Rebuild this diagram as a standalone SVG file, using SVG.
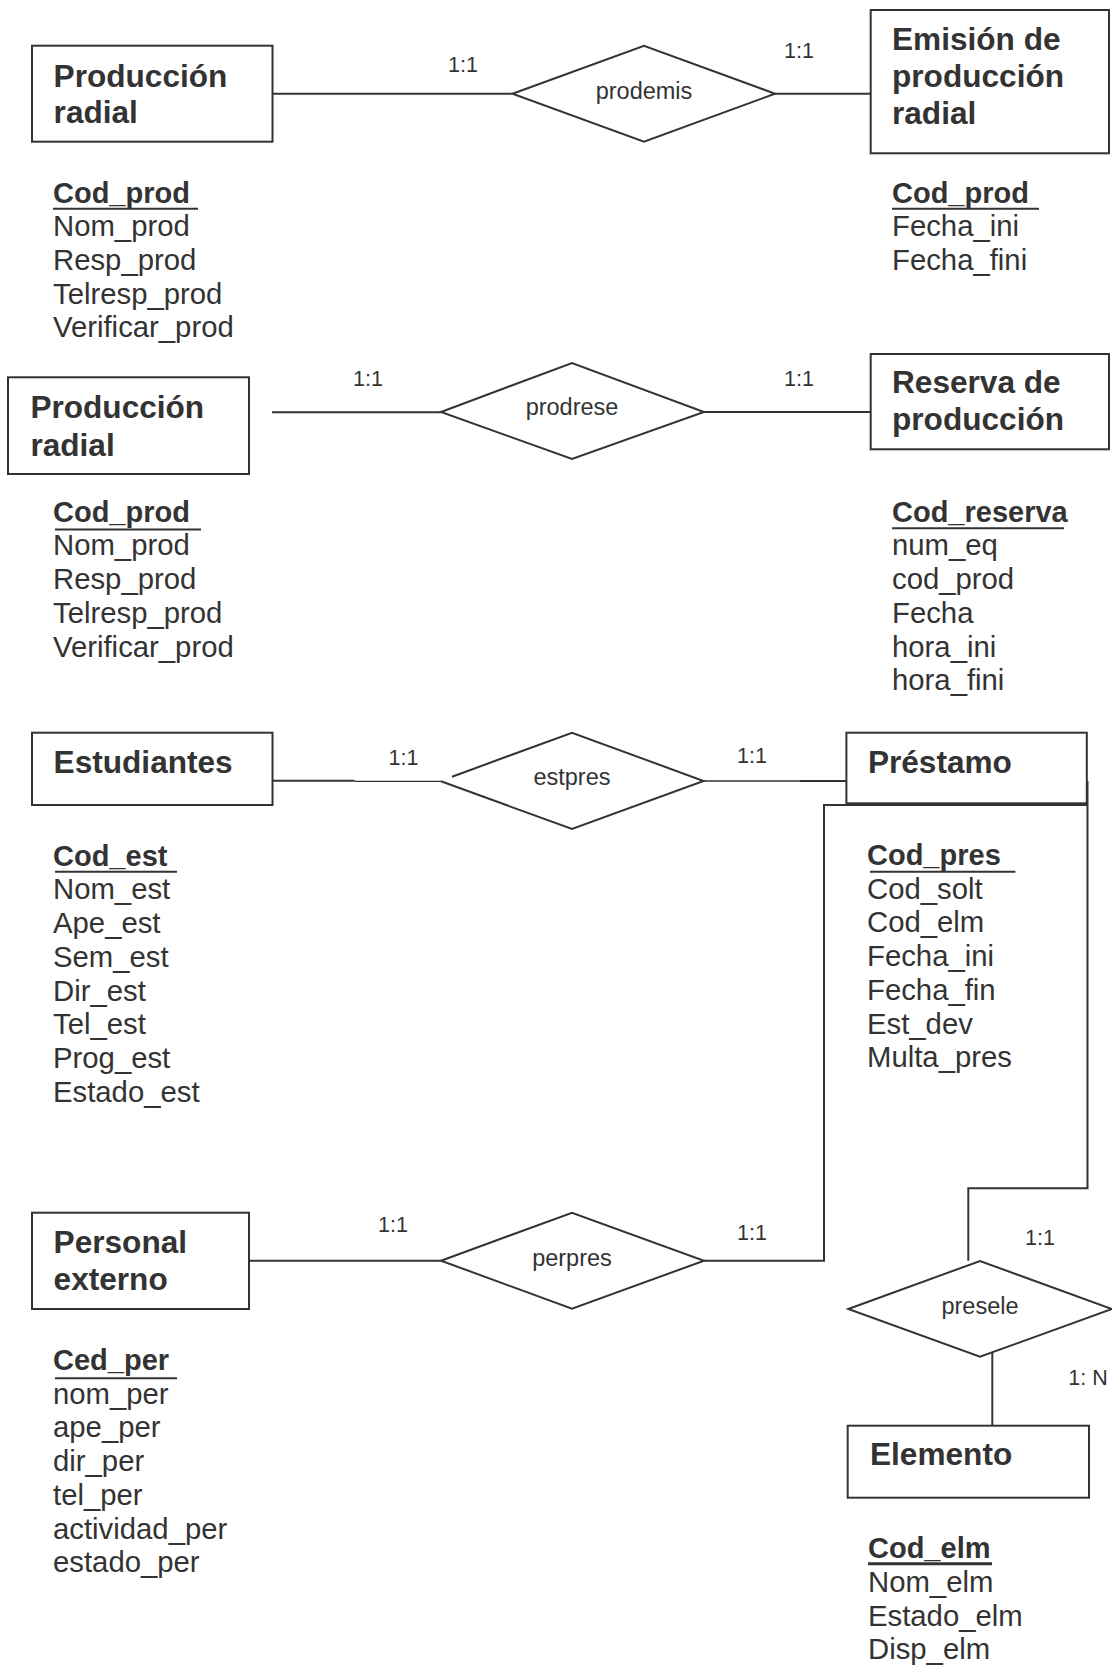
<svg xmlns="http://www.w3.org/2000/svg" width="1112" height="1667" viewBox="0 0 1112 1667">
<style>
text{font-family:"Liberation Sans",Arial,sans-serif;fill:#333}
.t{font-size:31.6px;font-weight:bold}
.k{font-size:29px;font-weight:bold}
.a{font-size:29.3px}
.r{font-size:23.5px;text-anchor:middle}
.c{font-size:21.5px}
.box,.dia{fill:none;stroke:#333;stroke-width:2}
.ul{stroke:#333;stroke-width:2}
.ln{fill:none;stroke:#333;stroke-width:2}
.thin{fill:none;stroke:#333;stroke-width:1.3}
</style>
<rect width="1112" height="1667" fill="#fff"/>

<g id="connectors">
<line class="ln" x1="272.5" y1="93.7" x2="512.5" y2="93.7"/>
<line class="ln" x1="775" y1="93.7" x2="870.7" y2="93.7"/>
<line class="ln" x1="272" y1="412.3" x2="441" y2="412.3"/>
<line class="ln" x1="704" y1="412" x2="870.7" y2="412"/>
<line class="ln" x1="272.5" y1="780.8" x2="354.6" y2="780.8"/>
<line class="thin" x1="354.6" y1="781.3" x2="441" y2="781.3"/>
<line class="thin" x1="703.6" y1="781" x2="800" y2="781"/>
<line class="ln" x1="800" y1="781" x2="846.4" y2="781"/>
<line class="ln" x1="249" y1="1260.7" x2="441" y2="1260.7"/>
<path class="ln" d="M704,1260.7 H824 V805 H1087"/>
<path class="ln" d="M1087.5,781 V1188.3 H968.3 V1260.7"/>
<line class="ln" x1="992.3" y1="1353" x2="992.3" y2="1425.7"/>
<text class="c" x="448" y="72">1:1</text>
<text class="c" x="784" y="58.3">1:1</text>
<text class="c" x="353" y="386">1:1</text>
<text class="c" x="784" y="386">1:1</text>
<text class="c" x="388.6" y="765">1:1</text>
<text class="c" x="737" y="763.3">1:1</text>
<text class="c" x="378" y="1231.7">1:1</text>
<text class="c" x="737" y="1240">1:1</text>
<text class="c" x="1025" y="1245">1:1</text>
<text class="c" x="1068.3" y="1385">1: N</text>
</g>

<g id="prodemis">
<polygon class="dia" points="512.5,93.7 644,45.7 775,93.7 644,141.7"/>
<text class="r" x="644" y="98.5">prodemis</text>
</g>
<g id="prodrese">
<polygon class="dia" points="441,412 572,363 704,412 572,459"/>
<text class="r" x="572" y="414.5">prodrese</text>
</g>
<g id="estpres">
<path class="dia" d="M452,776.7 L572,732.7 L703.6,781 L572,829 L441,781.3"/>
<text class="r" x="572" y="785">estpres</text>
</g>
<g id="perpres">
<polygon class="dia" points="441,1260.7 572,1212.7 704,1260.7 572,1308.7"/>
<text class="r" x="572" y="1265.5">perpres</text>
</g>
<g id="presele">
<polygon class="dia" points="848.3,1309 980,1261 1112,1309 980,1356.7"/>
<text class="r" x="980" y="1313.5">presele</text>
</g>

<g id="produccion-radial-1">
<rect class="box" x="32" y="45.7" width="240.5" height="96"/>
<text class="t" x="53.6" y="86.7">Producción</text>
<text class="t" x="53.6" y="123">radial</text>
<text class="k" x="53" y="202.7">Cod_prod</text>
<line class="ul" x1="53" y1="208.7" x2="198" y2="208.7"/>
<text class="a" x="53" y="236.3">Nom_prod</text>
<text class="a" x="53" y="270">Resp_prod</text>
<text class="a" x="53" y="303.7">Telresp_prod</text>
<text class="a" x="53" y="337.4">Verificar_prod</text>
</g>

<g id="emision">
<rect class="box" x="870.7" y="10" width="238.3" height="143.3"/>
<text class="t" x="892" y="50">Emisión de</text>
<text class="t" x="892" y="86.7">producción</text>
<text class="t" x="892" y="124">radial</text>
<text class="k" x="892" y="202.7">Cod_prod</text>
<line class="ul" x1="892" y1="208.7" x2="1039" y2="208.7"/>
<text class="a" x="892" y="236.3">Fecha_ini</text>
<text class="a" x="892" y="270">Fecha_fini</text>
</g>

<g id="produccion-radial-2">
<rect class="box" x="8" y="377.3" width="241" height="96.7"/>
<text class="t" x="30.4" y="418.3">Producción</text>
<text class="t" x="30.4" y="455.7">radial</text>
<text class="k" x="53" y="521.7">Cod_prod</text>
<line class="ul" x1="55" y1="529.5" x2="201" y2="529.5"/>
<text class="a" x="53" y="555.4">Nom_prod</text>
<text class="a" x="53" y="589.1">Resp_prod</text>
<text class="a" x="53" y="622.8">Telresp_prod</text>
<text class="a" x="53" y="656.5">Verificar_prod</text>
</g>

<g id="reserva">
<rect class="box" x="870.7" y="354" width="238.3" height="95.3"/>
<text class="t" x="892" y="393.3">Reserva de</text>
<text class="t" x="892" y="430">producción</text>
<text class="k" x="892" y="521.7">Cod_reserva</text>
<line class="ul" x1="892" y1="528.3" x2="1064" y2="528.3"/>
<text class="a" x="892" y="555.4">num_eq</text>
<text class="a" x="892" y="589.1">cod_prod</text>
<text class="a" x="892" y="622.8">Fecha</text>
<text class="a" x="892" y="656.5">hora_ini</text>
<text class="a" x="892" y="690.2">hora_fini</text>
</g>

<g id="estudiantes">
<rect class="box" x="32" y="732.7" width="240.5" height="72.3"/>
<text class="t" x="53.6" y="773.3">Estudiantes</text>
<text class="k" x="53" y="865.7">Cod_est</text>
<line class="ul" x1="55" y1="871.7" x2="177" y2="871.7"/>
<text class="a" x="53" y="899.4">Nom_est</text>
<text class="a" x="53" y="933.1">Ape_est</text>
<text class="a" x="53" y="966.8">Sem_est</text>
<text class="a" x="53" y="1000.5">Dir_est</text>
<text class="a" x="53" y="1034.2">Tel_est</text>
<text class="a" x="53" y="1067.9">Prog_est</text>
<text class="a" x="53" y="1101.6">Estado_est</text>
</g>

<g id="prestamo">
<rect class="box" x="846.4" y="732.7" width="240.4" height="70.6"/>
<text class="t" x="867.9" y="773.3">Préstamo</text>
<text class="k" x="867" y="865">Cod_pres</text>
<line class="ul" x1="870" y1="871.7" x2="1015.4" y2="871.7"/>
<text class="a" x="867" y="898.7">Cod_solt</text>
<text class="a" x="867" y="932.4">Cod_elm</text>
<text class="a" x="867" y="966.1">Fecha_ini</text>
<text class="a" x="867" y="999.8">Fecha_fin</text>
<text class="a" x="867" y="1033.5">Est_dev</text>
<text class="a" x="867" y="1067.2">Multa_pres</text>
</g>

<g id="personal-externo">
<rect class="box" x="32" y="1212.7" width="217" height="96.3"/>
<text class="t" x="53.6" y="1253.3">Personal</text>
<text class="t" x="53.6" y="1290">externo</text>
<text class="k" x="53" y="1370">Ced_per</text>
<line class="ul" x1="55" y1="1378.3" x2="177" y2="1378.3"/>
<text class="a" x="53" y="1403.7">nom_per</text>
<text class="a" x="53" y="1437.4">ape_per</text>
<text class="a" x="53" y="1471.1">dir_per</text>
<text class="a" x="53" y="1504.8">tel_per</text>
<text class="a" x="53" y="1538.5">actividad_per</text>
<text class="a" x="53" y="1572.2">estado_per</text>
</g>

<g id="elemento">
<rect class="box" x="847.7" y="1425.7" width="241.3" height="72"/>
<text class="t" x="870" y="1465">Elemento</text>
<text class="k" x="868" y="1558.3">Cod_elm</text>
<line class="ul" x1="868" y1="1563.8" x2="992" y2="1563.8" style="stroke-width:3"/>
<text class="a" x="868" y="1592">Nom_elm</text>
<text class="a" x="868" y="1625.7">Estado_elm</text>
<text class="a" x="868" y="1659.4">Disp_elm</text>
</g>
</svg>
